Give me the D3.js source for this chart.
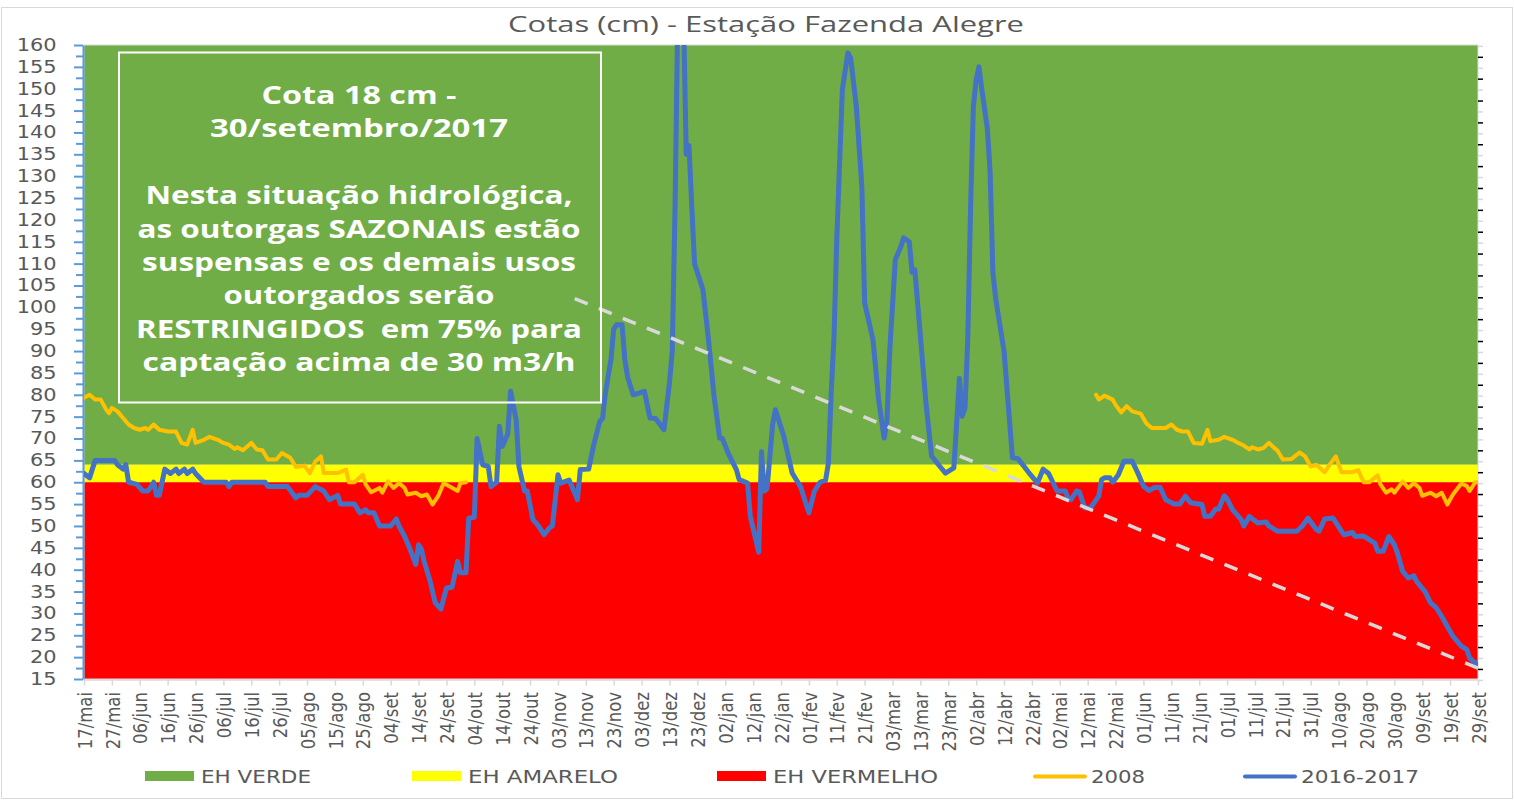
<!DOCTYPE html>
<html lang="pt-BR">
<head>
<meta charset="utf-8">
<title>Cotas (cm) - Estação Fazenda Alegre</title>
<script src="https://cdn.jsdelivr.net/npm/d3@7"></script>
<style>
  html, body { margin: 0; padding: 0; background: #ffffff; }
  svg { display: block; }
</style>
</head>
<body>
<svg id="grafico" width="1514" height="800"></svg>
<script>
// Cotas (cm) da Estação Fazenda Alegre: faixas de estado hidrológico,
// série 2008 (mai-set) e série 2016-2017, com linha de tendência tracejada.

// ---- dados ----------------------------------------------------------------

// Eixo X: dias contados a partir de 17/mai/2016 até 29/set/2017.
const dataInicial = "2016-05-17";
const dataFinal = "2017-09-29";
const mesesPt = ["jan", "fev", "mar", "abr", "mai", "jun", "jul", "ago", "set", "out", "nov", "dez"];
const diasRotulos = d3.range(0, 501, 10);

// Eixo Y (cm)
const cotaMinima = 15;
const cotaMaxima = 160;
const cotasRotulos = d3.range(15, 161, 5);

// Faixas de estado hidrológico [de, até] em cm
const faixasNomes = ["EH VERDE", "EH AMARELO", "EH VERMELHO"];
const faixasLimites = [[64, 160], [60, 64], [15, 60]];

// Série 2016-2017: [dia, cota]
const serie2016_2017 = [
  [0, 62], [2, 61], [4, 65], [11, 65], [12, 64], [14, 63], [15, 64], [16, 60], [19, 59.5], [21, 58],
  [23, 58], [25, 60], [26, 57], [27, 57], [29, 63], [31, 62], [33, 63], [34, 62], [36, 63], [37, 62],
  [39, 63], [40, 62], [43, 60], [51, 60], [52, 59], [53, 60], [65, 60], [66, 59], [73, 59], [76, 56.4],
  [77, 57], [80, 57], [83, 59], [86, 58], [88, 56], [91, 57], [92, 55], [97, 55], [99, 53], [101, 53.7],
  [102, 53], [104, 53], [106, 50], [110, 50], [112, 51.6], [113, 50], [115, 47.6], [117, 44.6], [119, 41.2], [120, 45.7],
  [121, 44.7], [122, 41.9], [124, 37.7], [126, 32.4], [128, 31], [130, 35.8], [132, 36], [134, 41.9], [135, 39.3], [137, 39.3],
  [138, 51.8], [140, 52], [141, 70], [143, 64], [145, 63.6], [146, 59], [148, 60], [149, 72.8], [150, 68.2], [152, 71],
  [153, 80.8], [155, 74.3], [156, 63.6], [158, 58], [159, 58], [161, 51.5], [163, 50], [165, 48], [167, 49.6], [168, 50],
  [170, 61.7], [171, 59.8], [174, 60.5], [177, 56], [178, 62.9], [181, 63], [183, 69], [185, 73.9], [186, 74.6], [187, 80.4],
  [189, 88], [190, 95], [191, 96], [193, 96], [194, 88], [195, 84], [197, 80], [201, 80.8], [203, 74.7], [205, 74.6],
  [208, 72], [210, 82.7], [211, 90], [212, 123], [213, 168], [215, 168], [216, 135], [217, 137], [218, 123], [219, 110],
  [222, 104], [224, 92.6], [226, 79.6], [228, 70.1], [229, 70], [231, 66.7], [234, 62.9], [235, 60.6], [238, 59.8], [239, 52.2],
  [242, 44], [243, 67], [244, 58], [245, 58.5], [247, 73.2], [248, 76.6], [251, 70.5], [254, 62.1], [257, 59], [260, 53],
  [262, 58], [264, 60], [266, 60.5], [267, 64.4], [268, 80.4], [269, 93], [270, 115.5], [272, 149.8], [274, 158.2], [275, 157],
  [277, 146], [279, 127.7], [280, 101], [283, 92.6], [285, 78.9], [287, 70.1], [288, 74], [289, 90], [291, 110.9], [293, 113.9],
  [294, 115.9], [296, 115], [297, 108], [298, 108.6], [300, 93.4], [302, 78.1], [304, 66], [307, 63.6], [309, 62.1], [312, 63.3],
  [314, 83.8], [315, 75.1], [316, 77], [317, 93], [318, 123], [319, 146], [320, 152], [321, 155], [322, 150], [324, 141],
  [325, 131], [326, 108], [327, 102], [330, 90], [333, 65.6], [335, 65.4], [339, 62.1], [342, 59.8], [344, 63], [346, 62],
  [349, 58], [352, 58], [353, 56.2], [354, 56], [356, 58], [357, 57.8], [359, 54.1], [361, 54.1], [364, 56.9], [365, 60.6],
  [366, 61], [368, 61], [369, 60], [371, 61.7], [373, 64.8], [376, 64.8], [378, 62.1], [380, 59.1], [382, 58.1], [384, 58.8],
  [386, 58.8], [388, 56], [391, 55], [393, 55], [395, 56.8], [397, 55.3], [401, 54.9], [402, 52.2], [404, 52.2], [406, 53.9],
  [407, 53.9], [409, 56.9], [410, 56.2], [412, 53.7], [415, 51.5], [416, 50], [418, 52.2], [421, 50.7], [424, 50.9], [425, 50],
  [428, 48.8], [435, 48.8], [437, 50], [439, 51.8], [442, 49.2], [443, 48.8], [445, 51.6], [448, 51.8], [451, 48.8], [452, 48],
  [455, 48.5], [456, 47.6], [459, 47.7], [461, 46.9], [463, 46.1], [464, 44.2], [466, 44.2], [468, 47.6], [470, 45.7], [471, 44],
  [473, 39.6], [475, 38.1], [477, 38.6], [478, 37.3], [481, 35], [483, 32.4], [485, 31.3], [487, 29.3], [489, 27], [491, 24.8],
  [494, 22.5], [496, 21.7], [497, 19.8], [499, 18.7], [500, 18]
];

// Série 2008 (mai-set), mostrada no trecho de 2016 e de novo no de 2017: [dia, cota]
const serie2008Inicio = [
  [0, 79.3], [2, 80], [4, 78.9], [6, 78.9], [8, 76.6], [9, 75.8], [10, 77], [12, 76.2], [14, 74.7], [16, 73.2],
  [18, 72.4], [20, 72], [22, 72.4], [23, 72], [25, 73.2], [27, 72], [30, 71.6], [33, 71.6], [35, 69], [37, 68.6],
  [39, 72], [40, 69], [43, 69.7], [45, 70.4], [48, 69.7], [50, 69], [52, 68.6], [54, 67.6], [55, 68], [57, 67.3],
  [60, 69], [62, 67.5], [64, 67.3], [66, 65.2], [69, 65.2], [71, 66.7], [74, 65.6], [76, 63.5], [79, 63.8], [81, 62.1],
  [83, 64.8], [85, 65.9], [86, 62.1], [89, 62.1], [91, 62.1], [94, 62.9], [95, 60], [97, 60], [100, 61.7], [101, 59.5],
  [103, 57.7], [106, 58.7], [107, 57.6], [109, 60.2], [111, 58.7], [113, 59.8], [115, 58.7], [116, 57.2], [119, 57.6], [121, 56.8],
  [123, 57.2], [125, 54.9], [127, 56.8], [129, 59.8], [131, 59.1], [134, 58], [135, 59.8], [137, 60]
];
const serie2008Fim = [
  [363, 80], [364, 78.9], [366, 79.8], [369, 78.9], [370, 77.7], [372, 76], [374, 77.4], [376, 76.2], [379, 75.7], [381, 73.5],
  [383, 72.4], [385, 72.4], [388, 72.4], [390, 73.2], [392, 72], [394, 71.6], [396, 71.6], [398, 69], [401, 68.8], [403, 72],
  [404, 69.4], [407, 69.7], [409, 70.4], [412, 69.7], [414, 69], [416, 68.4], [418, 67.5], [419, 68], [421, 67.5], [423, 67.8],
  [425, 69], [427, 67.8], [428, 67.3], [430, 65.2], [433, 65.3], [436, 66.8], [438, 65.9], [440, 63.6], [442, 64], [445, 62.3],
  [447, 64.2], [449, 65.9], [451, 62.3], [453, 62.3], [455, 62.3], [457, 62.8], [459, 60], [461, 60], [464, 61.6], [465, 59.5],
  [467, 57.6], [469, 58.4], [470, 57.6], [473, 60.2], [475, 58.7], [477, 59.8], [479, 58.7], [480, 56.9], [483, 57.6], [485, 56.8],
  [487, 57.6], [489, 54.9], [491, 57.2], [494, 59.7], [496, 59.1], [497, 58], [499, 60], [500, 60]
];

// Linha de tendência tracejada: [dia, cota]
const tendencia = [[176, 102], [500, 17.5]];

// Legenda e textos
const legendaNomes = ["EH VERDE", "EH AMARELO", "EH VERMELHO", "2008", "2016-2017"];
const titulo = "Cotas (cm) - Estação Fazenda Alegre";
const avisoLinhas = [
  "Cota 18 cm -",
  "30/setembro/2017",
  "",
  "Nesta situação hidrológica,",
  "as outorgas SAZONAIS estão",
  "suspensas e os demais usos",
  "outorgados serão",
  "RESTRINGIDOS  em 75% para",
  "captação acima de 30 m3/h"
];

// ---- aparência ------------------------------------------------------------

const cores = {
  faixas: ["#70ad47", "#ffff00", "#ff0000"],
  serie2008: "#ffc000",
  serie2016: "#4472c4",
  tendencia: "#d9d9d9",
  texto: "#595959",
  eixoY: "#5b9bd5",
  grade: "#d9d9d9"
};

const largura = 1514;
const altura = 800;
const area = { esquerda: 84, direita: 1478, topo: 45, base: 679 };

// ---- escalas --------------------------------------------------------------

const inicio = d3.utcParse("%Y-%m-%d")(dataInicial);
const fim = d3.utcParse("%Y-%m-%d")(dataFinal);

function dataDoDia(dia) {
  return d3.utcDay.offset(inicio, dia);
}

const x = d3.scaleUtc().domain([inicio, fim]).range([area.esquerda, area.direita]);
const y = d3.scaleLinear().domain([cotaMinima, cotaMaxima]).range([area.base, area.topo]);
// eixo secundário (só marcas, sem rótulos)
const ySecundario = d3.scaleLinear().domain([cotaMinima - 2.3, cotaMaxima - 2.3]).range([area.base, area.topo]);

const svg = d3.select("#grafico");

// moldura do gráfico
svg.append("rect")
  .attr("x", 1.5).attr("y", 7.5)
  .attr("width", largura - 3).attr("height", altura - 9)
  .attr("fill", "#ffffff")
  .attr("stroke", cores.grade);

svg.append("defs").append("clipPath")
  .attr("id", "recorte")
  .append("rect")
  .attr("x", area.esquerda).attr("y", area.topo)
  .attr("width", area.direita - area.esquerda)
  .attr("height", area.base - area.topo);

// ---- faixas ---------------------------------------------------------------

svg.append("g")
  .selectAll("rect")
  .data(faixasLimites)
  .enter()
  .append("rect")
  .attr("x", x(inicio))
  .attr("width", x(fim) - x(inicio))
  .attr("y", function (d) { return y(d[1]); })
  .attr("height", function (d) { return y(d[0]) - y(d[1]); })
  .attr("fill", function (d, i) { return cores.faixas[i]; });

// borda da área de plotagem
svg.append("rect")
  .attr("x", area.esquerda).attr("y", area.topo)
  .attr("width", area.direita - area.esquerda)
  .attr("height", area.base - area.topo)
  .attr("fill", "none")
  .attr("stroke", cores.grade);

// ---- eixos ----------------------------------------------------------------

function rotuloData(d) {
  return d3.utcFormat("%d")(d) + "/" + mesesPt[d.getUTCMonth()];
}

// eixo X
const eixoX = svg.append("g")
  .attr("transform", "translate(0," + (area.base + 0.5) + ")")
  .call(d3.axisBottom(x)
    .tickValues(diasRotulos.map(dataDoDia))
    .tickFormat(rotuloData)
    .tickSize(6)
    .tickSizeOuter(0));
eixoX.select(".domain").attr("stroke", cores.grade).attr("stroke-width", 1.5);
eixoX.selectAll(".tick line").attr("stroke", cores.grade).attr("stroke-width", 1.5);
eixoX.selectAll(".tick text")
  .attr("font-family", "'DejaVu Sans', sans-serif")
  .attr("font-size", 16.5)
  .attr("fill", cores.texto)
  .attr("text-anchor", "end")
  .attr("x", -12.5)
  .attr("y", 0)
  .attr("dy", "0.36em")
  .attr("transform", "scale(1.2,1) rotate(-90)");

// eixo Y (principal), marcas principais e secundárias
const eixoY = svg.append("g")
  .attr("transform", "translate(" + (area.esquerda - 1) + ",0)")
  .call(d3.axisLeft(y)
    .tickValues(cotasRotulos)
    .tickSize(9)
    .tickSizeOuter(0));
eixoY.select(".domain").attr("stroke", cores.eixoY).attr("stroke-width", 2);
eixoY.selectAll(".tick line").attr("stroke", cores.eixoY).attr("stroke-width", 2);
eixoY.selectAll(".tick text")
  .attr("font-family", "'DejaVu Sans', sans-serif")
  .attr("font-size", 17)
  .attr("fill", cores.texto)
  .attr("x", -21.5)
  .attr("transform", "scale(1.23,1)");

const eixoYMenor = svg.append("g")
  .attr("transform", "translate(" + (area.esquerda - 1) + ",0)")
  .call(d3.axisLeft(y)
    .tickValues(cotasRotulos.slice(0, -1).map(function (v) { return v + 2.5; }))
    .tickSize(7)
    .tickFormat(""));
eixoYMenor.select(".domain").remove();
eixoYMenor.selectAll(".tick line").attr("stroke", cores.eixoY).attr("stroke-width", 2);

// eixo Y secundário à direita (apenas marcas)
const eixoDireita = svg.append("g")
  .attr("transform", "translate(" + area.direita + ",0)")
  .call(d3.axisRight(ySecundario)
    .tickValues(d3.range(15, 156, 5))
    .tickSize(5)
    .tickFormat(""));
eixoDireita.select(".domain").remove();
eixoDireita.selectAll(".tick line").attr("stroke", "#000000").attr("stroke-width", 1.5);

const eixoDireitaMenor = svg.append("g")
  .attr("transform", "translate(" + area.direita + ",0)")
  .call(d3.axisRight(ySecundario)
    .tickValues(d3.range(12.5, 158, 5))
    .tickSize(5)
    .tickFormat(""));
eixoDireitaMenor.select(".domain").remove();
eixoDireitaMenor.selectAll(".tick line").attr("stroke", cores.grade).attr("stroke-width", 1.5);

// ---- séries ---------------------------------------------------------------

const linha = d3.line()
  .x(function (d) { return x(dataDoDia(d[0])); })
  .y(function (d) { return y(d[1]); });

const camadaSeries = svg.append("g").attr("clip-path", "url(#recorte)");

[serie2008Inicio, serie2008Fim].forEach(function (trecho) {
  camadaSeries.append("path")
    .datum(trecho)
    .attr("d", linha)
    .attr("fill", "none")
    .attr("stroke", cores.serie2008)
    .attr("stroke-width", 4)
    .attr("stroke-linejoin", "round")
    .attr("stroke-linecap", "round");
});

camadaSeries.append("path")
  .datum(serie2016_2017)
  .attr("d", linha)
  .attr("fill", "none")
  .attr("stroke", cores.serie2016)
  .attr("stroke-width", 5)
  .attr("stroke-linejoin", "round")
  .attr("stroke-linecap", "round");

// tendência tracejada
svg.append("path")
  .datum(tendencia)
  .attr("d", linha)
  .attr("fill", "none")
  .attr("stroke", cores.tendencia)
  .attr("stroke-width", 3.5)
  .attr("stroke-dasharray", "14 12");

// ---- título ---------------------------------------------------------------

svg.append("text")
  .attr("x", 766)
  .attr("y", 32)
  .attr("text-anchor", "middle")
  .attr("font-family", "'Open Sans', sans-serif")
  .attr("font-size", 21)
  .attr("fill", cores.texto)
  .attr("textLength", 516)
  .attr("lengthAdjust", "spacingAndGlyphs")
  .text(titulo);

// ---- caixa de aviso -------------------------------------------------------

const avisoLarguras = [195, 298, 0, 427, 443, 434, 271, 446, 433];

svg.append("rect")
  .attr("x", 119).attr("y", 52.5)
  .attr("width", 482).attr("height", 350)
  .attr("fill", "none")
  .attr("stroke", "#ffffff")
  .attr("stroke-width", 2);

const camadaAviso = svg.append("g");
avisoLinhas.forEach(function (linhaTexto, i) {
  if (!linhaTexto) return;
  camadaAviso.append("text")
    .attr("x", 359)
    .attr("y", 104 + i * 33.4)
    .attr("text-anchor", "middle")
    .attr("font-family", "'Open Sans', sans-serif")
    .attr("font-weight", 700)
    .attr("font-size", 25)
    .attr("fill", "#ffffff")
    .attr("textLength", avisoLarguras[i])
    .attr("lengthAdjust", "spacingAndGlyphs")
    .style("white-space", "pre")
    .text(linhaTexto);
});

// ---- legenda --------------------------------------------------------------

const legendaInicio = [145, 412, 717, 1033, 1243];
const legendaLarguras = [110, 150, 165, 54, 118];
const legenda = svg.append("g");

legendaNomes.forEach(function (nome, i) {
  const x0 = legendaInicio[i];
  if (i < 3) {
    legenda.append("rect")
      .attr("x", x0).attr("y", 771)
      .attr("width", 49).attr("height", 10)
      .attr("fill", cores.faixas[i]);
  } else {
    legenda.append("line")
      .attr("x1", x0 + 2).attr("x2", x0 + 52)
      .attr("y1", 776.5).attr("y2", 776.5)
      .attr("stroke", i === 3 ? cores.serie2008 : cores.serie2016)
      .attr("stroke-width", 4)
      .attr("stroke-linecap", "round");
  }
  legenda.append("text")
    .attr("x", x0 + (i < 3 ? 56 : 58))
    .attr("y", 782.5)
    .attr("font-family", "'DejaVu Sans', sans-serif")
    .attr("font-size", 17)
    .attr("fill", cores.texto)
    .attr("textLength", legendaLarguras[i])
    .attr("lengthAdjust", "spacingAndGlyphs")
    .text(nome);
});
</script>
</body>
</html>
